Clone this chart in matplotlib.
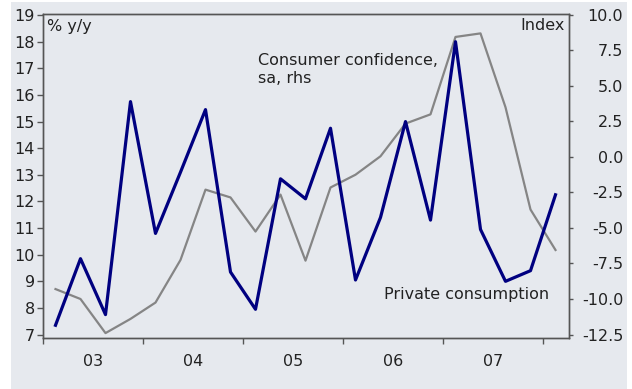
import matplotlib.pyplot as plt
from matplotlib.patches import Rectangle
from matplotlib.ticker import FixedLocator, NullFormatter, FixedFormatter

# Quarterly observations, 2003Q1 - 2008Q1
years = [2003] * 4 + [2004] * 4 + [2005] * 4 + [2006] * 4 + [2007] * 4 + [2008]
quarters = [1, 2, 3, 4] * 5 + [1]

# Private consumption, % y/y (left axis)
private_consumption = [
    7.35, 9.85, 7.75, 15.75, 10.8, 13.1, 15.45, 9.35, 7.95, 12.85, 12.1,
    14.75, 9.05, 11.4, 15.0, 11.3, 18.0, 10.95, 9.0, 9.4, 12.25,
]
# Consumer confidence, seasonally adjusted index (right axis)
consumer_confidence = [
    -9.3, -10.0, -12.4, -11.4, -10.25, -7.25, -2.3, -2.85, -5.25, -2.65, -7.3,
    -2.15, -1.25, 0.05, 2.35, 3.0, 8.45, 8.7, 3.5, -3.7, -6.55,
]

year_labels = ["03", "04", "05", "06", "07"]

BG = "#e6e9ee"
NAVY = "#000080"
GREY = "#858585"
TEXT = "#222222"

plt.rcParams.update(
    {
        "font.family": "DejaVu Sans",
        "font.size": 11.5,
        "axes.unicode_minus": False,
        "text.color": TEXT,
        "xtick.color": "#555555",
        "ytick.color": "#555555",
        "xtick.labelcolor": TEXT,
        "ytick.labelcolor": TEXT,
    }
)

fig = plt.figure(figsize=(6.32, 3.89), dpi=100, facecolor="white")
fig.patches.append(
    Rectangle((11 / 632, 0), 616 / 632, 387 / 389, transform=fig.transFigure,
              facecolor=BG, edgecolor="none", zorder=-10)
)
ax = fig.add_axes([43 / 632, 51.5 / 389, 526 / 632, 324 / 389])
ax.set_facecolor(BG)
ax2 = ax.twinx()

x = [y + (q - 0.5) / 4 for y, q in zip(years, quarters)]

ax2.plot(x, consumer_confidence, color=GREY, lw=1.6, zorder=2)
ax.plot(x, private_consumption, color=NAVY, lw=2.3, zorder=3)
ax.set_zorder(ax2.get_zorder() + 1)
ax.patch.set_visible(False)
ax2.patch.set_visible(True)
ax2.patch.set_facecolor(BG)

ax.set_xlim(2003.0, 2008.26)
ax.set_ylim(6.89, 19.06)
ax2.set_ylim(-12.71, 10.1)

ax.set_yticks(range(7, 20))
ax2.set_yticks([-12.5, -10, -7.5, -5, -2.5, 0, 2.5, 5, 7.5, 10])
ax2.set_yticklabels([f"{v:.1f}" for v in ax2.get_yticks()])

# year boundaries carry the ticks, mid-year positions carry the labels
ax.xaxis.set_major_locator(FixedLocator([2003, 2004, 2005, 2006, 2007, 2008]))
ax.xaxis.set_major_formatter(NullFormatter())
ax.xaxis.set_minor_locator(FixedLocator([2003.5, 2004.5, 2005.5, 2006.5, 2007.5]))
ax.xaxis.set_minor_formatter(FixedFormatter(year_labels))
ax.tick_params(axis="x", which="major", direction="out", length=4, width=1)
ax.tick_params(axis="x", which="minor", length=0, pad=12)
ax.tick_params(axis="y", direction="out", length=4, width=1, pad=2)
ax2.tick_params(axis="y", direction="out", length=3, width=1, pad=36)
for label in ax2.get_yticklabels():
    label.set_horizontalalignment("right")

for axis in (ax, ax2):
    for spine in axis.spines.values():
        spine.set_color("#555555")
        spine.set_linewidth(1)

ax.text(0.007, 0.961, "% y/y", transform=ax.transAxes, ha="left", va="center")
ax.text(0.992, 0.962, "Index", transform=ax.transAxes, ha="right", va="center")
ax.text(0.409, 0.826, "Consumer confidence,\nsa, rhs", transform=ax.transAxes,
        ha="left", va="center", linespacing=1.25)
ax.text(0.648, 0.134, "Private consumption", transform=ax.transAxes,
        ha="left", va="center")

fig.savefig("out.png", dpi=100, facecolor="white")
